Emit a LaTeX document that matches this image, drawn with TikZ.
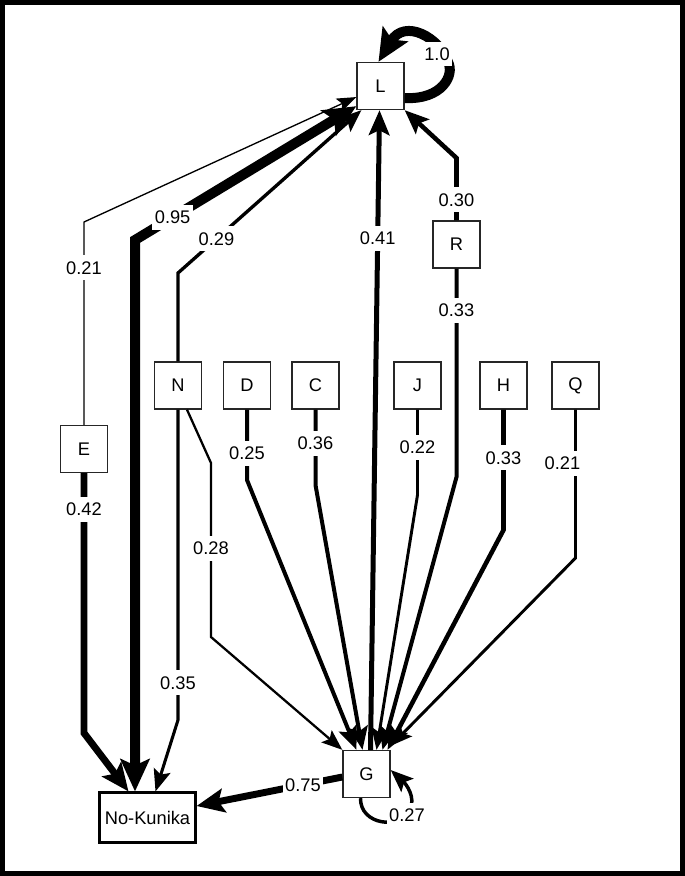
\documentclass[tikz,border=0pt]{standalone}
\usepackage{fontspec}
\setmainfont{Liberation Sans}
\usetikzlibrary{arrows.meta, calc}
\newcommand{\probfont}{\fontsize{13.7}{16}\selectfont}
\tikzset{
    % States
    state/.style={
        draw=black!85, line width=1pt, fill=white, font=\probfont,
        minimum width=35.25pt, minimum height=35.25pt, inner sep=0pt
    },
    endstate/.style={state, draw=black, line width=1.6pt, minimum width=72pt, minimum height=37.5pt},
    % Transition labels
    prob/.style={fill=white, inner xsep=2pt, inner ysep=4.5pt, font=\probfont},
    % Arrows
    trans/.style={line width=#1, -{Stealth[length=13pt 1.5, width=9pt 1.7, inset=2.5pt 0.3]}},
    twoway/.style={line width=#1, {Stealth[length=13pt 1.5, width=9pt 1.7, inset=2.5pt 0.3]}-{Stealth[length=13pt 1.5, width=9pt 1.7, inset=2.5pt 0.3]}},
}

\begin{document}
\begin{tikzpicture}[x=0.75pt, y=-0.75pt]

\useasboundingbox (0,0) rectangle (685,876);
\draw[line width=3.75pt] (2.5,2.5) rectangle (682.5,873.5);

% States
\node (L) [state] at (380.5,86) {L};
\node (R) [state] at (456.5,244.5) {R};
\node (N) [state] at (178,385.5) {N};
\node (D) [state] at (247,385.5) {D};
\node (C) [state] at (315.5,385.5) {C};
\node (J) [state] at (417.5,385.5) {J};
\node (H) [state] at (503.5,385.5) {H};
\node (Q) [state] at (575.5,385.5) {Q};
\node (E) [state] at (84,449) {E};
\node (G) [state] at (366.5,774) {G};
\node (NK) [endstate] at (147.5,817.5) {No-Kunika};

% Into L
\draw[trans=1pt] (E.north) -- node[prob, pos=0.774] {0.21} (84,222) -- (L);
\draw[twoway=7.5pt] ($(NK.north)+(-12.5,0)$) -- (135,240) -- node[prob, pos=0.17] {0.95} ($(L.south west)+(0,-4)$);
\draw[trans=2.5pt] (N.north) -- (178,273) -- node[prob, pos=0.21] {0.29} ($(L.south west)+(5,0)$);
\draw[trans=3.75pt] ($(G.north)+(4,0)$) -- node[prob, pos=0.8] {0.41} ($(L.south)+(-1,0)$);
\draw[trans=3.4pt] (R.north) -- node[prob, pos=0.33] {0.30} (456.5,158) -- (L.south east);

% Into G
\draw[trans=3pt] (R.south) -- node[prob, pos=0.2] {0.33} (456.5,477) -- ($(G.north)+(16,0)$);
\draw[trans=1.7pt] ($(N.south)+(9,0)$) -- (211,463) -- node[prob, pos=0.49] {0.28} (211,637) -- (G.north west);
\draw[trans=3pt] (D.south) -- node[prob, pos=0.62] {0.25} (247,480) -- ($(G.north)+(-10,0)$);
\draw[trans=3pt] (C.south) -- node[prob, pos=0.45] {0.36} (315.5,485) -- ($(G.north)+(-4,0)$);
\draw[trans=2.2pt] (J.south) -- node[prob, pos=0.44] {0.22} (417.5,495) -- ($(G.north)+(10,0)$);
\draw[trans=3.4pt] (H.south) -- node[prob, pos=0.4] {0.33} (503.5,530) -- ($(G.north)+(21,0)$);
\draw[trans=2.2pt] (Q.south) -- node[prob, pos=0.36, xshift=-9.75pt] {0.21} (575.5,558) -- ($(G.north east)+(0,-4)$);

% Into No-Kunika
\draw[trans=2.3pt] (N.south) -- node[prob, pos=0.88] {0.35} (178,720) -- ($(NK.north)+(8,0)$);
\draw[trans=5.2pt] (E.south) -- node[prob, pos=0.14] {0.42} (84,733) -- ($(NK.north)+(-19,0)$);
\draw[trans=5.2pt] ($(G.west)+(0,3)$) -- node[prob, pos=0.27] {0.75} ($(NK.east)+(0,-11.5)$);

% Self loops
\draw[trans=2.6pt] ($(G.south)+(-6,0)$) .. controls (360,825) and (400,830) .. (410,810)
    .. controls (416,797) and (406,784) .. ($(G.east)+(0,-4)$) node[prob] at (407,815) {0.27};
\draw[trans=7.5pt] ($(L.east)+(0,12)$) .. controls (442,100) and (455,75) .. (448,62)
    .. controls (440,38) and (405,18) .. ($(L.north)+(-2,0)$) node[prob] at (437,54) {1.0};

\end{tikzpicture}
\end{document}
